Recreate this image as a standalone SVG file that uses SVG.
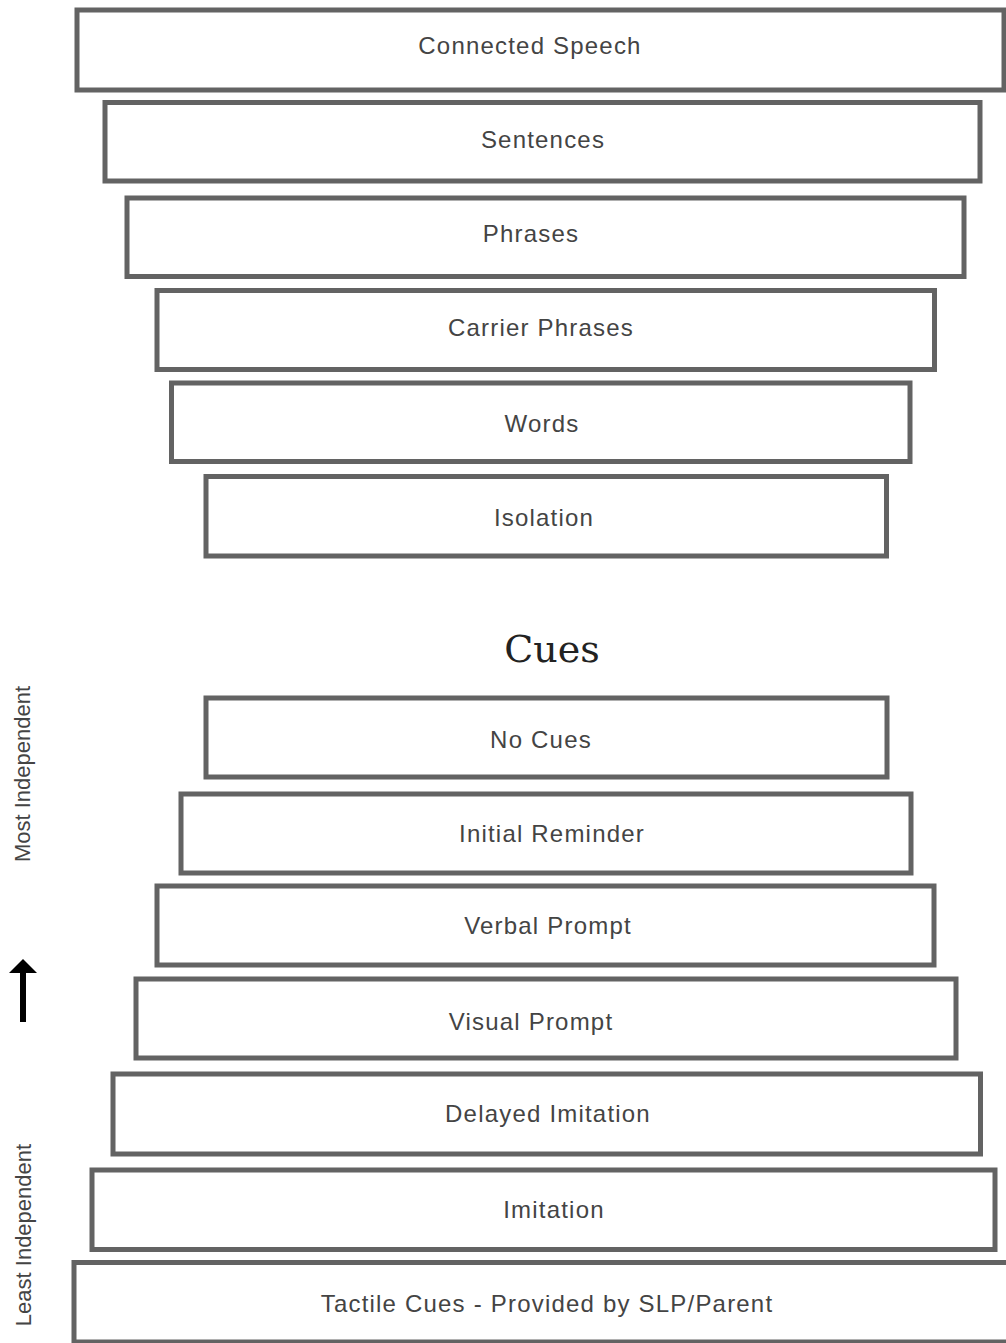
<svg xmlns="http://www.w3.org/2000/svg" width="1006" height="1343" viewBox="0 0 1006 1343">
<style>
.box{fill:#fff;stroke:#636363;stroke-width:5}
.lbl{font-family:"Liberation Sans",Arial,sans-serif;font-size:24px;letter-spacing:1.2px;fill:#444;text-anchor:middle}
.side{font-family:"Liberation Sans",Arial,sans-serif;font-size:22px;fill:#444;text-anchor:middle}
.title{font-family:"DejaVu Serif",serif;font-size:38px;fill:#222;text-anchor:middle}
</style>
<rect width="1006" height="1343" fill="#fff"/>
<g id="n1"><rect class="box" x="77" y="10" width="927" height="80"/><text class="lbl" x="530" y="54">Connected Speech</text></g>
<g id="n2"><rect class="box" x="105" y="102.5" width="875" height="78.5"/><text class="lbl" x="543" y="148">Sentences</text></g>
<g id="n3"><rect class="box" x="127" y="198" width="837" height="78.5"/><text class="lbl" x="531" y="242">Phrases</text></g>
<g id="n4"><rect class="box" x="157" y="290.5" width="777.5" height="79"/><text class="lbl" x="541" y="336">Carrier Phrases</text></g>
<g id="n5"><rect class="box" x="171.5" y="383" width="738.5" height="78.5"/><text class="lbl" x="542" y="432">Words</text></g>
<g id="n6"><rect class="box" x="206" y="476.5" width="680.5" height="79.5"/><text class="lbl" x="544" y="526">Isolation</text></g>
<g id="title"><text class="title" x="552" y="662">Cues</text></g>
<g id="c1"><rect class="box" x="206" y="698" width="681" height="79"/><text class="lbl" x="541" y="748">No Cues</text></g>
<g id="c2"><rect class="box" x="181" y="794" width="730" height="79"/><text class="lbl" x="552" y="842">Initial Reminder</text></g>
<g id="c3"><rect class="box" x="157" y="886" width="777" height="79"/><text class="lbl" x="548" y="934">Verbal Prompt</text></g>
<g id="c4"><rect class="box" x="136" y="979" width="820" height="79"/><text class="lbl" x="531" y="1030">Visual Prompt</text></g>
<g id="c5"><rect class="box" x="113" y="1074" width="867.5" height="80"/><text class="lbl" x="548" y="1122">Delayed Imitation</text></g>
<g id="c6"><rect class="box" x="92" y="1170" width="903" height="79.5"/><text class="lbl" x="554" y="1218">Imitation</text></g>
<g id="c7"><rect class="box" x="74" y="1262.5" width="940" height="79.5"/><text class="lbl" x="547" y="1312">Tactile Cues - Provided by SLP/Parent</text></g>
<g id="axis">
<text class="side" transform="translate(30,774) rotate(-90)">Most Independent</text>
<text class="side" transform="translate(31,1235) rotate(-90)">Least Independent</text>
</g>
<g id="connectors">
<rect x="20" y="970" width="6" height="52" fill="#000"/>
<polygon points="23,959 37,973 9,973" fill="#000"/>
</g>
</svg>
